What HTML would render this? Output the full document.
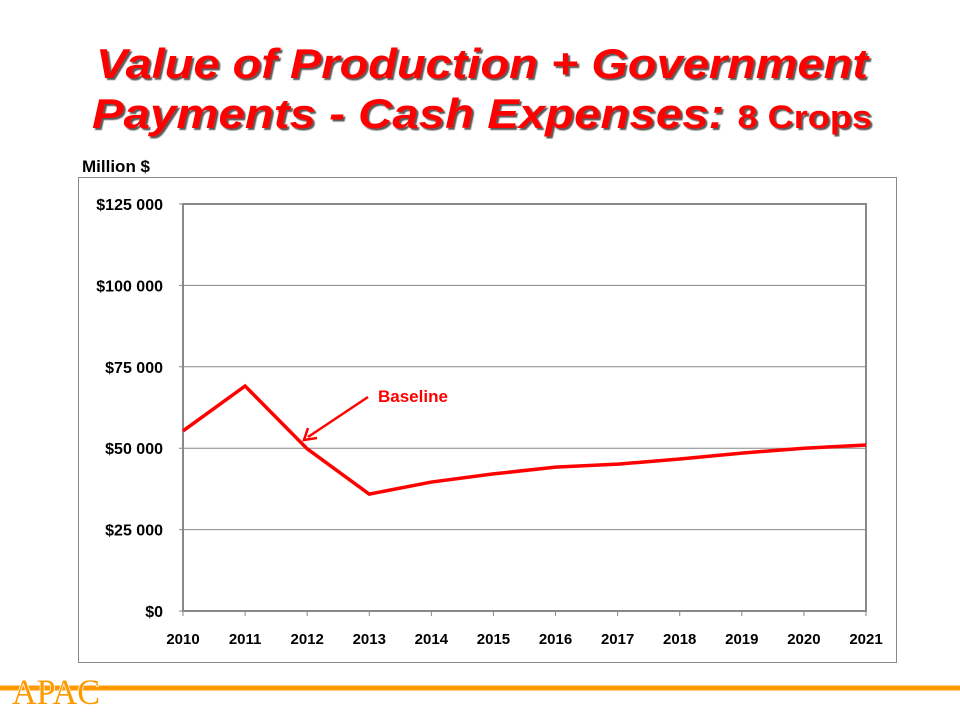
<!DOCTYPE html>
<html><head><meta charset="utf-8"><style>
body{margin:0;width:960px;height:720px;background:#fff;overflow:hidden;font-family:"Liberation Sans",sans-serif}
</style></head><body>
<svg width="960" height="720" viewBox="0 0 960 720">
<defs><filter id="sh"><feDropShadow dx="2" dy="2" stdDeviation="0.5" flood-color="#333" flood-opacity="0.8"/></filter></defs>
<g filter="url(#sh)" fill="#ff0000" font-weight="bold">
<text x="96" y="78" font-size="42" font-style="italic" textLength="772" lengthAdjust="spacingAndGlyphs">Value of Production + Government</text>
<text x="92" y="128" font-size="42" textLength="780" lengthAdjust="spacingAndGlyphs"><tspan font-style="italic">Payments - Cash Expenses: </tspan><tspan font-size="32">8 Crops</tspan></text>
</g>
<text x="82" y="172" font-size="17" font-weight="bold" fill="#000">Million $</text>
<rect x="78.5" y="177.5" width="818" height="485" fill="none" stroke="#888" stroke-width="1"/>
<g id="chart"></g>
<text x="378" y="402" font-size="17" font-weight="bold" fill="#ff0000">Baseline</text>
<g stroke="#ff0000" stroke-width="2.5" fill="none">
<line x1="368" y1="397" x2="308" y2="437"/>
<polyline points="308,428 304,440 317,438"/>
</g>
<line x1="0" y1="688" x2="960" y2="688" stroke="#ff9900" stroke-width="5"/>
<text x="12" y="704" font-family="Liberation Serif,serif" font-size="36" fill="#ff9900" textLength="88" lengthAdjust="spacingAndGlyphs" stroke="#fff" stroke-width="1.5" paint-order="stroke">APAC</text>
</svg>
<script>
const years=["2010","2011","2012","2013","2014","2015","2016","2017","2018","2019","2020","2021"];
const values=[55300,69100,49800,35900,39600,42100,44200,45100,46700,48500,50000,51000];
const yTicks=[0,25000,50000,75000,100000,125000];
const yTickLabels=["$0","$25 000","$50 000","$75 000","$100 000","$125 000"];
const NS="http://www.w3.org/2000/svg";
const g=document.getElementById('chart');
const L=183,R=866,T=204,B=611,YMAX=125000;
const xs=i=>L+(R-L)*i/(years.length-1);
const ys=v=>B-(B-T)*v/YMAX;
function mk(t,a){const e=document.createElementNS(NS,t);for(const k in a)e.setAttribute(k,a[k]);g.appendChild(e);return e;}
yTicks.forEach((v,i)=>{
  const l=mk('line',{x1:L-4,x2:R,y1:ys(v),y2:ys(v),stroke:'#888','stroke-width':1});
  
  
  const t=mk('text',{x:163,y:ys(v)+6,'text-anchor':'end','font-size':16,'font-weight':'bold'});
  t.textContent=yTickLabels[i];
  
  
});
const fr=mk('rect',{x:L,y:T,width:R-L,height:B-T,fill:'none',stroke:'#888','stroke-width':2});


years.forEach((y,i)=>{
  const tk=mk('line',{x1:xs(i),x2:xs(i),y1:B,y2:B+5,stroke:'#888'});
  
  
  const t=mk('text',{x:xs(i),y:B+33,'text-anchor':'middle','font-size':15,'font-weight':'bold'});
  t.textContent=y;
  
  
});
const p=mk('polyline',{points:values.map((v,i)=>xs(i)+','+ys(v)).join(' '),fill:'none',stroke:'#ff0000','stroke-width':3.5,'stroke-linejoin':'miter'});


</script>
</body></html>
